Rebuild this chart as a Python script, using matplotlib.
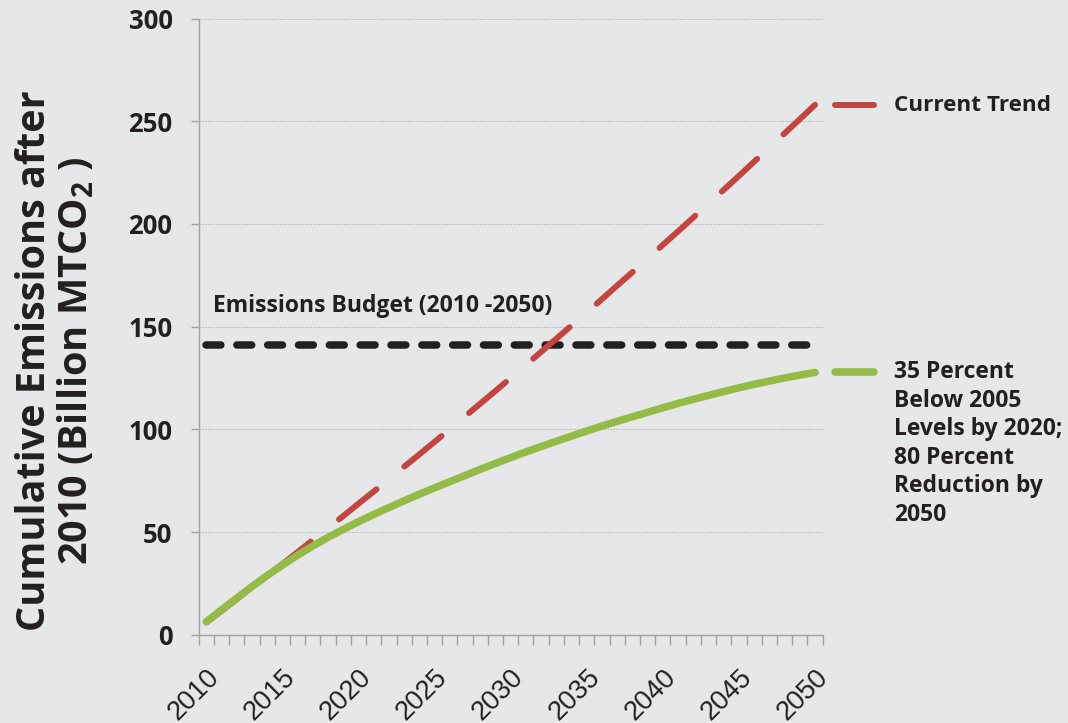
import numpy as np
import matplotlib
matplotlib.use("Agg")
import matplotlib.pyplot as plt
import matplotlib.transforms as mtransforms

# categories (one per year) and series values
years = list(range(2010, 2051))
current_trend = [6.0, 11.6, 17.3, 23.0, 28.7, 34.4, 40.2, 46.1, 51.9, 57.8,
                 63.8, 69.7, 75.7, 81.8, 87.8, 93.9, 100.1, 106.3, 112.5, 118.7,
                 125.0, 131.3, 137.7, 144.1, 150.5, 156.9, 163.4, 170.0, 176.5, 183.1,
                 189.8, 196.4, 203.1, 209.9, 216.6, 223.4, 230.3, 237.2, 244.1, 251.0,
                 258.0]
reduction = [6.3, 12.1, 17.8, 23.4, 28.8, 33.9, 38.7, 43.2, 47.4, 51.3,
             55.0, 58.5, 61.9, 65.2, 68.4, 71.5, 74.5, 77.5, 80.5, 83.4,
             86.2, 89.0, 91.6, 94.2, 96.7, 99.2, 101.6, 103.9, 106.1, 108.3,
             110.5, 112.6, 114.6, 116.5, 118.4, 120.2, 121.9, 123.5, 125.0, 126.4,
             127.7]
budget = 141
label_years = [2010, 2015, 2020, 2025, 2030, 2035, 2040, 2045, 2050]
yticks = [0, 50, 100, 150, 200, 250, 300]

bg = '#e6e7e8'
txt = '#231f20'
red = '#c4443f'
green = '#93bb46'
axis_gray = '#a3a3a3'

plt.rcParams['lines.scale_dashes'] = False
bold = {'family': 'Open Sans', 'weight': 'bold'}

fig = plt.figure(figsize=(10.68, 7.23), dpi=100, facecolor=bg)
ax = fig.add_axes([0.1860, 0.1221, 0.5843, 0.8523], facecolor=bg)

x = np.arange(len(years))

ax.plot(x, [budget] * len(x), color=txt, lw=5.4, dashes=(10.7, 11.5),
        solid_capstyle='round', dash_capstyle='round', zorder=3)
ax.plot(x, current_trend, color=red, lw=4.3, dashes=(34.6, 25.9),
        dash_capstyle='round', solid_capstyle='round', zorder=4)
ax.plot(x, reduction, color=green, lw=5.4, solid_capstyle='round', zorder=5)

ax.set_xlim(-0.5, len(years) - 0.5)
ax.set_ylim(0, 300)

# tick marks at category boundaries, labels at category centres
ax.set_xticks(np.arange(-0.5, len(years), 1.0))
ax.set_xticklabels([])
ax.set_xticks([years.index(y) for y in label_years], [str(y) for y in label_years], minor=True)
ax.tick_params(axis='x', which='major', direction='out', length=7.2, width=1.0, color=axis_gray)
ax.tick_params(axis='x', which='minor', length=0, pad=21, labelsize=19.5, labelcolor=txt)
for lab in ax.get_xticklabels(minor=True):
    lab.set_rotation(45)
    lab.set_ha('right')
    lab.set_va('top')
    lab.set_rotation_mode('anchor')
    lab.set_fontfamily('Liberation Sans')

ax.set_yticks(yticks)
ax.set_yticklabels([str(v) for v in yticks], fontdict=bold)
ax.tick_params(axis='y', direction='out', length=5.8, width=1.0, color=axis_gray,
               pad=13, labelsize=18.5, labelcolor=txt)

ax.yaxis.grid(True, color='#b4b4b4', lw=0.8, linestyle=(0, (1, 1)))
ax.set_axisbelow(True)
for s in ['top', 'right']:
    ax.spines[s].set_visible(False)
for s in ['left', 'bottom']:
    ax.spines[s].set_color(axis_gray)
    ax.spines[s].set_linewidth(1.0)

# budget label
ax.text(0.42, 157, 'Emissions Budget (2010 -2050)', fontsize=16.5, color=txt,
        ha='left', va='baseline', fontdict=bold)

# series keys to the right, at each series' final value
tr = mtransforms.blended_transform_factory(ax.transAxes, ax.transData)
for vals, col, lw in [(current_trend, red, 4.3), (reduction, green, 5.4)]:
    ax.plot([1.019, 1.083], [vals[-1], vals[-1]], color=col, lw=lw,
            solid_capstyle='round', transform=tr, clip_on=False)
ax.text(1.115, current_trend[-1] - 0.5, 'Current Trend', transform=tr, fontsize=16.2,
        color=txt, ha='left', va='center', fontdict=bold)
ax.text(1.115, reduction[-1] + 6, '35 Percent\nBelow 2005\nLevels by 2020;\n80 Percent\nReduction by\n2050',
        transform=tr, fontsize=16.5, color=txt, ha='left', va='top', linespacing=1.25,
        fontdict=bold)

plt.rcParams['mathtext.fontset'] = 'custom'
plt.rcParams['mathtext.bf'] = 'Open Sans:bold'
plt.rcParams['mathtext.rm'] = 'Open Sans:bold'
fig.text(56 / 1068, 1 - 361 / 723, 'Cumulative Emissions after\n2010 (Billion MTCO$_{\\mathbf{2}}$ )',
         rotation=90, ha='center', va='center', multialignment='center',
         fontsize=28.5, color=txt, linespacing=1.05, fontdict=bold)

fig.savefig('out.png', dpi=100, facecolor=bg)
